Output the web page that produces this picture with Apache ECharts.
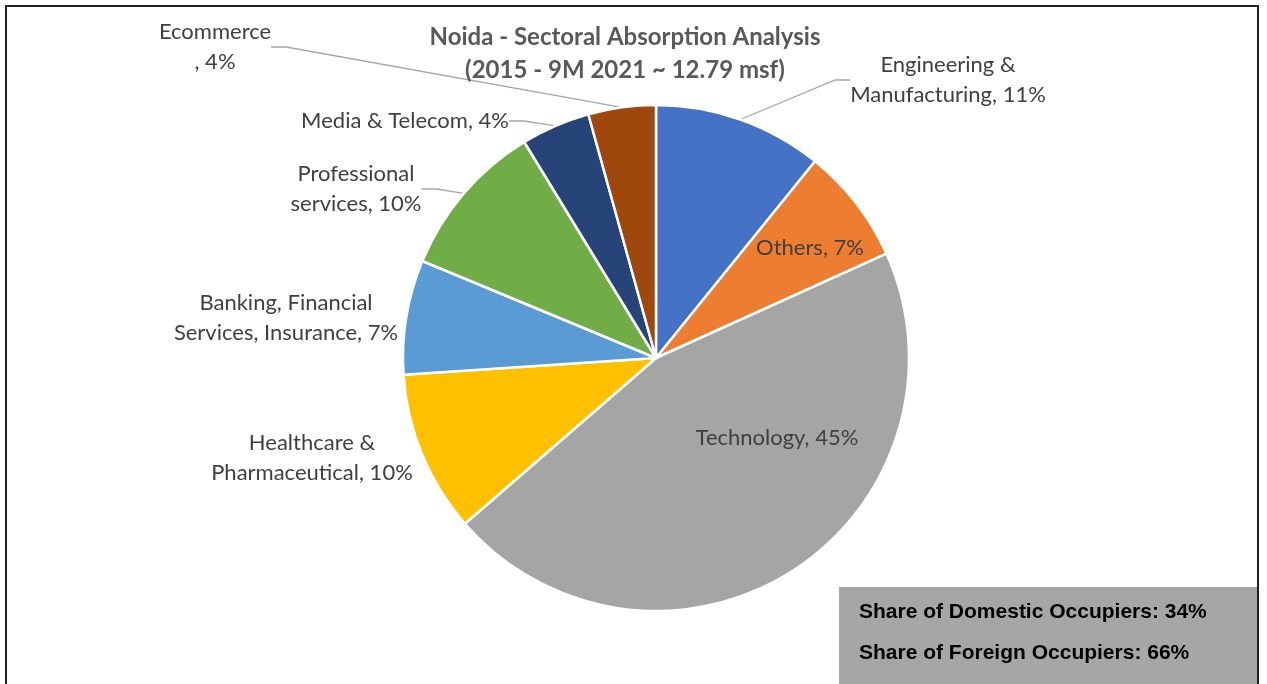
<!DOCTYPE html>
<html>
<head>
<meta charset="utf-8">
<title>Noida - Sectoral Absorption Analysis</title>
<script src="https://cdn.jsdelivr.net/npm/echarts@6/dist/echarts.min.js"></script>
<style>
  html, body { margin: 0; padding: 0; background: #fff; }
  #chart { width: 1267px; height: 684px; }
</style>
</head>
<body>
<div id="chart"></div>
<script>
// sectors, clockwise from 12 o'clock
const sectors = [
  'Engineering &\nManufacturing',
  'Others',
  'Technology',
  'Healthcare &\nPharmaceutical',
  'Banking, Financial\nServices, Insurance',
  'Professional\nservices',
  'Media & Telecom',
  'Ecommerce\n'
]
// share of absorption (%)
const shares = [10.8, 7.4, 45.3, 10.3, 7.3, 10.0, 4.4, 4.3]
const occupierTypes = ['Domestic', 'Foreign']
const occupierShares = [34, 66]

const colors = ['#4472C4', '#ED7D31', '#A5A5A5', '#FFC000', '#5B9BD5', '#70AD47', '#264478', '#9E480E']

// where excel put each label (text centre), and which ones got a leader line
const labelSpots = [
  [948, 80], [810, 248], [777, 438], [312, 458],
  [286, 318], [356, 189], [405, 121], [215, 47]
]
const hasLeader = [true, false, false, false, false, true, true, true]

const myChart = echarts.init(document.getElementById('chart'))

const option = {
  backgroundColor: '#fff',
  animation: false,
  title: {
    text: 'Noida - Sectoral Absorption Analysis\n(2015 - 9M 2021 ~ 12.79 msf)',
    left: 625,
    top: 21,
    padding: 0,
    textAlign: 'center',
    textStyle: {
      color: '#595959',
      fontFamily: 'Lato',
      fontWeight: 'bold',
      fontSize: 24,
      lineHeight: 33
    }
  },
  color: colors,
  series: [{
    type: 'pie',
    center: [656, 358],
    radius: 253,
    startAngle: 90,
    clockwise: true,
    avoidLabelOverlap: false,
    itemStyle: {
      borderColor: '#fff',
      borderWidth: 2.5
    },
    label: {
      show: true,
      color: '#404040',
      fontFamily: 'Lato',
      fontSize: 22,
      lineHeight: 30,
      formatter: p => p.name + ', ' + Math.round(p.percent) + '%'
    },
    labelLine: {
      show: true,
      length: 20,
      length2: 15,
      lineStyle: { color: '#a6a6a6', width: 1.3 }
    },
    labelLayout: p => ({
      x: labelSpots[p.dataIndex][0],
      y: labelSpots[p.dataIndex][1],
      align: 'center',
      verticalAlign: 'middle'
    }),
    emphasis: { disabled: true },
    data: sectors.map((name, i) => ({
      name: name,
      value: shares[i],
      labelLine: { show: hasLeader[i] }
    }))
  }],
  graphic: [
    {
      type: 'rect',
      silent: true,
      shape: { x: 6, y: 6, width: 1252, height: 720 },
      style: { fill: 'none', stroke: '#1f1f1f', lineWidth: 2 }
    },
    {
      type: 'rect',
      silent: true,
      shape: { x: 839, y: 587, width: 418, height: 100 },
      style: { fill: '#A6A6A6' }
    },
    ...occupierTypes.map((t, i) => ({
      type: 'text',
      silent: true,
      x: 859,
      y: 612 + i * 41,
      style: {
        text: 'Share of ' + t + ' Occupiers: ' + occupierShares[i] + '%',
        fill: '#000',
        font: 'bold 21px "Liberation Sans", Arial, sans-serif',
        verticalAlign: 'middle'
      }
    }))
  ]
}

myChart.setOption(option)
window.onresize = () => {
  myChart.resize()
}
</script>
</body>
</html>
